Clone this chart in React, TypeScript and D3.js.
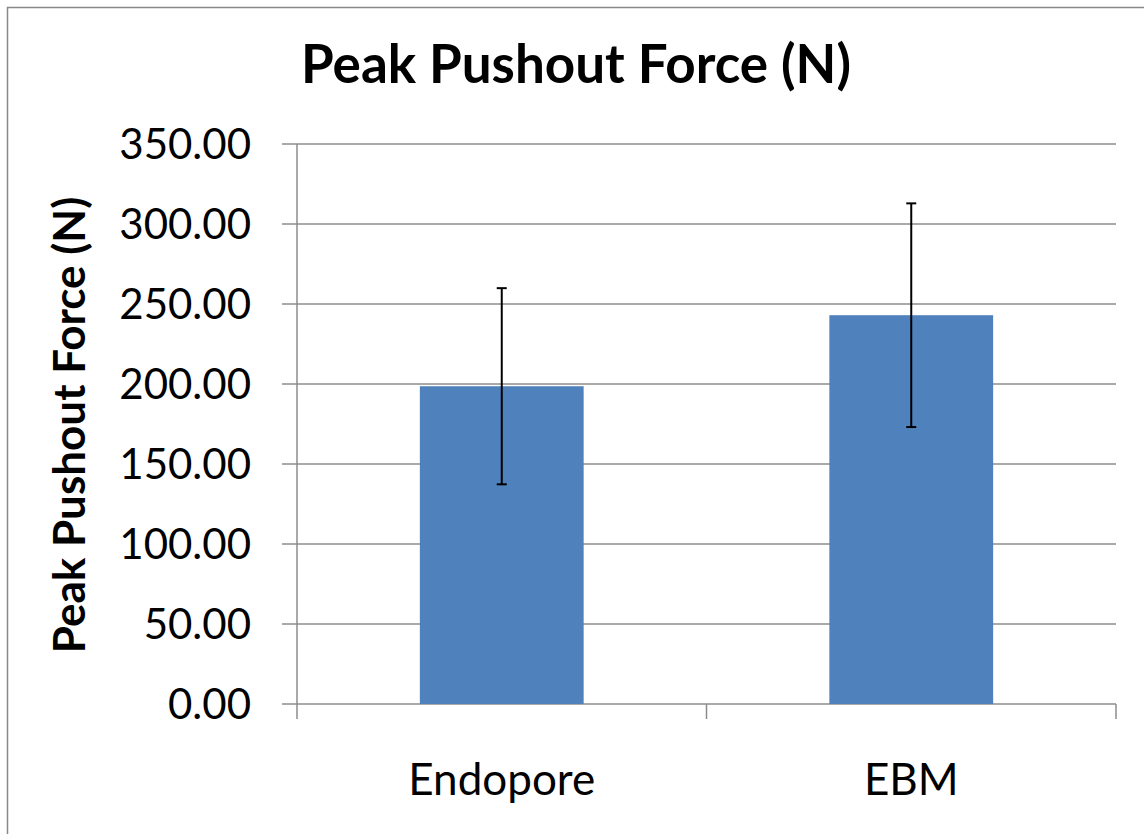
import React, { useEffect, useRef } from "react";
import * as d3 from "d3";

const categories = ["Endopore", "EBM"];
const means = [198.6, 243.0];
const errors = [61.3, 69.9];
const yTicks = [0, 50, 100, 150, 200, 250, 300, 350];

export default function App() {
  const svgRef = useRef<SVGSVGElement | null>(null);

  useEffect(() => {
    if (!svgRef.current) return;
    const width = 1144;
    const height = 834;
    const margin = { top: 144, right: 28, bottom: 130, left: 297 };
    const font = "Lato, 'Open Sans', sans-serif";

    const svg = d3.select(svgRef.current);
    svg.selectAll("*").remove();
    svg.attr("width", width).attr("height", height);

    svg
      .append("rect")
      .attr("x", 7.5)
      .attr("y", 7.5)
      .attr("width", width + 20)
      .attr("height", height + 20)
      .attr("fill", "#fff")
      .attr("stroke", "#888")
      .attr("stroke-width", 1.5);

    const x = d3
      .scaleBand()
      .domain(categories)
      .range([margin.left, width - margin.right])
      .paddingInner(0.6)
      .paddingOuter(0.3);

    const y = d3
      .scaleLinear()
      .domain([0, 350])
      .range([height - margin.bottom, margin.top]);

    // gridlines + y tick marks
    svg
      .append("g")
      .selectAll("line")
      .data(yTicks)
      .join("line")
      .attr("x1", margin.left - 15)
      .attr("x2", width - margin.right)
      .attr("y1", (d) => y(d))
      .attr("y2", (d) => y(d))
      .attr("stroke", "#8c8c8c")
      .attr("stroke-width", 1.5);

    // y axis line
    svg
      .append("line")
      .attr("x1", margin.left)
      .attr("x2", margin.left)
      .attr("y1", y(350))
      .attr("y2", y(0))
      .attr("stroke", "#8c8c8c")
      .attr("stroke-width", 1.5);

    // x tick marks at category boundaries
    const boundaries = [0, 1, 2].map((i) => margin.left + i * ((width - margin.right - margin.left) / 2));
    svg
      .append("g")
      .selectAll("line")
      .data(boundaries)
      .join("line")
      .attr("x1", (d) => d)
      .attr("x2", (d) => d)
      .attr("y1", y(0))
      .attr("y2", y(0) + 15)
      .attr("stroke", "#8c8c8c")
      .attr("stroke-width", 1.5);

    // y labels
    svg
      .append("g")
      .selectAll("text")
      .data(yTicks)
      .join("text")
      .attr("x", margin.left - 46)
      .attr("y", (d) => y(d))
      .attr("dy", "0.36em")
      .attr("text-anchor", "end")
      .attr("font-family", font)
      .attr("font-size", 42)
      .attr("fill", "#000")
      .text((d) => d3.format(".2f")(d));

    // bars
    svg
      .append("g")
      .selectAll("rect")
      .data(means)
      .join("rect")
      .attr("x", (_, i) => x(categories[i])!)
      .attr("y", (d) => y(d))
      .attr("width", x.bandwidth())
      .attr("height", (d) => y(0) - y(d))
      .attr("fill", "#4F81BD");

    // error bars
    const eb = svg.append("g").attr("stroke", "#000").attr("stroke-width", 2);
    means.forEach((m, i) => {
      const cx = x(categories[i])! + x.bandwidth() / 2;
      const hi = y(m + errors[i]);
      const lo = y(m - errors[i]);
      eb.append("line").attr("x1", cx).attr("x2", cx).attr("y1", hi).attr("y2", lo);
      eb.append("line").attr("x1", cx - 5).attr("x2", cx + 5).attr("y1", hi).attr("y2", hi);
      eb.append("line").attr("x1", cx - 5).attr("x2", cx + 5).attr("y1", lo).attr("y2", lo);
    });

    // category labels
    svg
      .append("g")
      .selectAll("text")
      .data(categories)
      .join("text")
      .attr("x", (d) => x(d)! + x.bandwidth() / 2)
      .attr("y", 795)
      .attr("text-anchor", "middle")
      .attr("font-family", font)
      .attr("font-size", 44)
      .attr("fill", "#000")
      .text((d) => d);

    // title
    svg
      .append("text")
      .attr("x", 576)
      .attr("y", 83)
      .attr("text-anchor", "middle")
      .attr("font-family", font)
      .attr("font-weight", "bold")
      .attr("font-size", 53)
      .attr("fill", "#000")
      .text("Peak Pushout Force (N)");

    // y axis title
    svg
      .append("text")
      .attr("transform", `translate(85,${425}) rotate(-90)`)
      .attr("text-anchor", "middle")
      .attr("font-family", font)
      .attr("font-weight", "bold")
      .attr("font-size", 44)
      .attr("fill", "#000")
      .text("Peak Pushout Force (N)");
  }, []);

  return (
    <svg
      ref={svgRef}
      style={{ position: "absolute", left: 0, top: 0, display: "block" }}
    />
  );
}
